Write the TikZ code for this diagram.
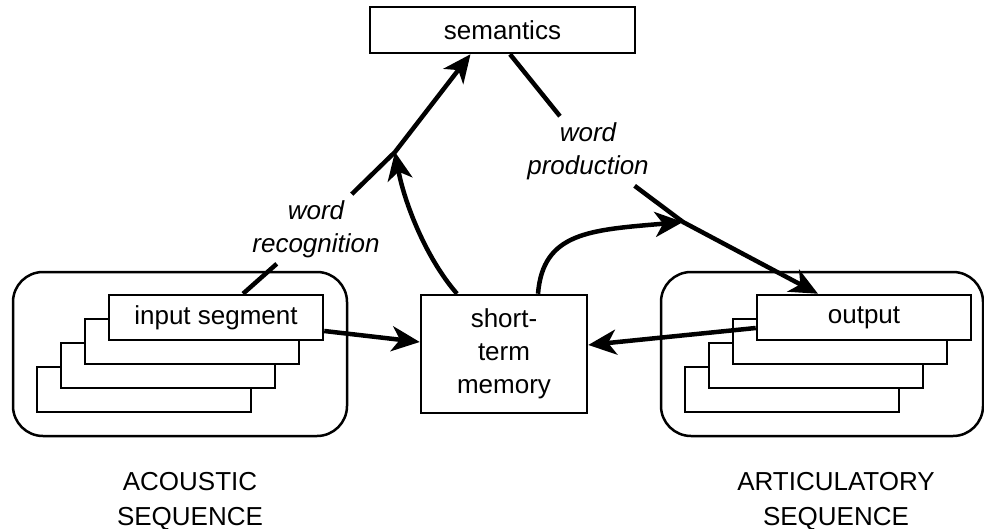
\documentclass[tikz,border=0pt]{standalone}
\usepackage{fontspec}
\setmainfont{Liberation Sans}
\usetikzlibrary{arrows.meta}

\tikzset{
  box/.style={draw, line width=2.5pt, fill=white, inner sep=0pt,
    font=\fontsize{26}{33}\selectfont, align=center},
  seg/.style={box, minimum width=214pt, minimum height=45pt},
  holder/.style={draw, line width=2.5pt, rounded corners=30pt},
  conn/.style={line width=4.5pt},
  arr/.style={conn, -{Stealth[length=28pt,width=25pt,inset=8pt]}},
  tag/.style={font=\fontsize{26}{33}\selectfont\itshape, align=center, inner sep=6pt},
  seqlabel/.style={font=\fontsize{26}{35}\selectfont, align=center, inner sep=0pt},
}

\begin{document}
\begin{tikzpicture}[x=1pt, y=-1pt]
    \useasboundingbox (0,0) rectangle (984,529);

    % Sequence holders
    \draw[holder] (13,272) rectangle (347,436);
    \draw[holder] (661,272) rectangle (983,436);

    % Stacked segments, back to front
    \foreach \k in {3,2,1} {
        \node[seg] (inseg\k) at (216-24*\k, 317.5+24*\k) {};
        \node[seg] (outseg\k) at (864-24*\k, 317.5+24*\k) {};
    }
    \node[seg] (inseg) at (216,317.5) {input segment};
    \node[seg] (outseg) at (864,317.5) {output};

    \node[box, minimum width=265pt, minimum height=46pt] (sem) at (502.5,30) {semantics};
    \node[box, minimum width=166pt, minimum height=118pt] (stm) at (504,354) {short-\\term\\memory};

    % Route labels and junctions
    \node[tag] (recog) at (316,229) {word\\recognition};
    \node[tag] (prod) at (588,151) {word\\production};
    \coordinate (rj) at (395,152);
    \coordinate (pj) at (683,222);

    \node[seqlabel] (acou) at (190,501) {ACOUSTIC\\SEQUENCE};
    \node[seqlabel] (artic) at (836,501) {ARTICULATORY\\SEQUENCE};

    % Connectors
    \draw[conn] ([xshift=27pt]inseg.north) -- (recog);
    \draw[arr] (recog) -- (rj) -- ([xshift=-32pt]sem.south);
    \draw[conn] ([xshift=7.5pt]sem.south) -- (prod);
    \draw[arr] (prod) -- (pj) -- ([xshift=-46pt]outseg.north);
    \draw[arr] ([yshift=-13.5pt]inseg.east) -- ([yshift=12pt]stm.west);
    \draw[arr] ([yshift=-10.5pt]outseg.west) -- ([yshift=9pt]stm.east);
    \draw[arr] ([xshift=-47pt]stm.north) .. controls (425,257) and (404,201) .. (rj);
    \draw[arr] ([xshift=34pt]stm.north) .. controls (543,232) and (590,230) .. (pj);

\end{tikzpicture}
\end{document}
